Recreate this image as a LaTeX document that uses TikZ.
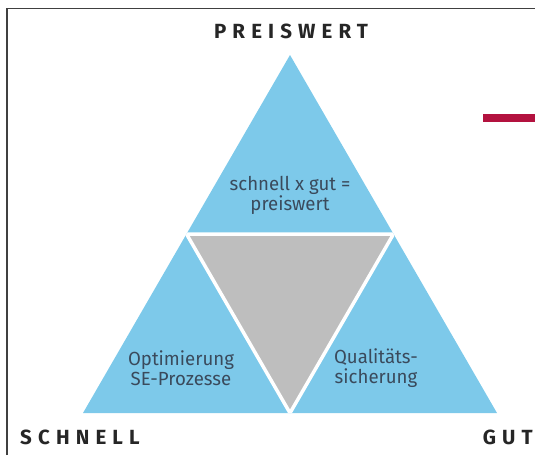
\documentclass[tikz,border=0pt]{standalone}
\usepackage{fontspec}
\setmainfont{Fira Sans}
\newfontfamily\labelfont{Fira Sans}[FakeStretch=0.98]
\newfontfamily\cornerfont{Fira Sans}[LetterSpace=30]
\usepackage{tikz}
\usetikzlibrary{shapes,arrows}
\definecolor{triblue}{HTML}{7DC9EA}
\definecolor{trigray}{HTML}{BEBEBE}
\definecolor{textgray}{HTML}{3A4A5C}
\definecolor{barred}{HTML}{B3123F}
\tikzstyle{corner} = [font=\cornerfont\bfseries\fontsize{20.5}{20.5}\selectfont,
text=black!85, inner sep=0pt]
\tikzstyle{tri label} = [font=\labelfont\fontsize{19}{20}\selectfont,
text=textgray, align=center, inner sep=0pt]

\begin{document}
\begin{tikzpicture}[x=1pt, y=-1pt]
	\useasboundingbox (0,0) rectangle (535,455);

	\coordinate (apex) at (290,55);
	\coordinate (left) at (83,413);
	\coordinate (right) at (497,413);
	\coordinate (mid left) at (186.5,234);
	\coordinate (mid right) at (393.5,234);
	\coordinate (mid bottom) at (290,413);

	\fill [triblue] (apex) -- (left) -- (right) -- cycle;
	\fill [trigray] (mid left) -- (mid right) -- (mid bottom) -- cycle;
	\begin{scope}
		\clip (apex) -- (left) -- (right) -- cycle;
		\draw [white, line width=3.5pt, line join=round] (mid left) -- (mid right) -- (mid bottom) -- cycle;
	\end{scope}

	\draw [black!75, line width=1.2pt] (7,455) -- (7,8.5) -- (535,8.5);
	\fill [barred] (483,114) rectangle (535,122);

	\node [corner] (preiswert) at (291,31) {PREISWERT};
	\node [corner, anchor=west] (schnell) at (20,437) {SCHNELL};
	\node [corner, anchor=east] (gut) at (533,437) {GUT};

	\node [tri label] (formel) at (290,195) {schnell x gut =\\preiswert};
	\node [tri label] (optimierung) at (181,368) {Optimierung\\SE-Prozesse};
	\node [tri label] (qualitaet) at (376,368) {Qualitäts-\\sicherung};

\end{tikzpicture}
\end{document}
